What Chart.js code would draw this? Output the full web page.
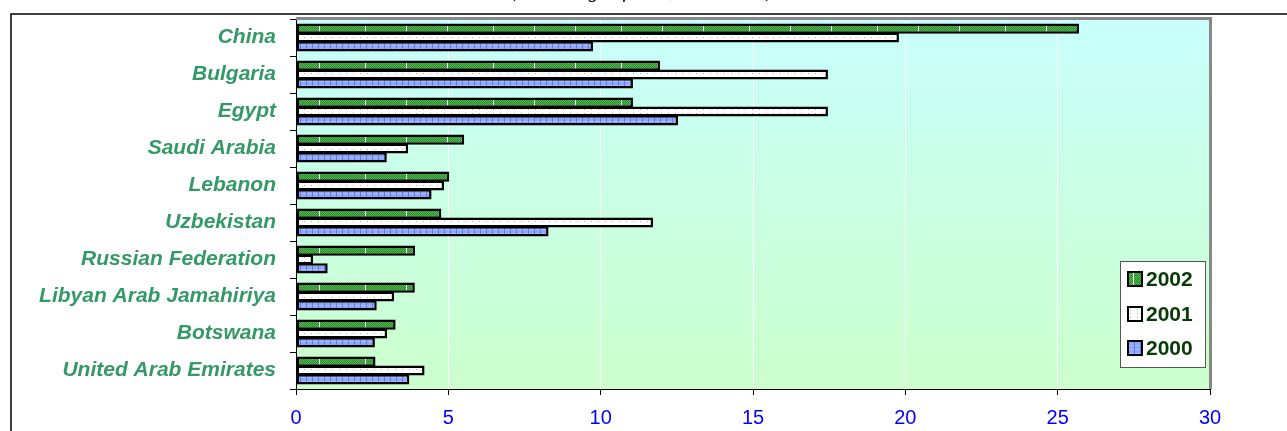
<!DOCTYPE html>
<html>
<head>
<meta charset="utf-8">
<script src="https://cdn.jsdelivr.net/npm/chart.js@4.4.0/dist/chart.umd.min.js"></script>
<style>
  html, body { margin: 0; padding: 0; background: #ffffff; }
  #wrap { width: 1287px; height: 431px; position: relative; }
</style>
</head>
<body>
<div id="wrap"><canvas id="c" width="1287" height="431"></canvas></div>
<script>
// Countries, top to bottom
const categories = ['China', 'Bulgaria', 'Egypt', 'Saudi Arabia', 'Lebanon', 'Uzbekistan',
  'Russian Federation', 'Libyan Arab Jamahiriya', 'Botswana', 'United Arab Emirates'];

// Values per year
const values2002 = [25.70, 11.95, 11.06, 5.52, 5.03, 4.77, 3.91, 3.90, 3.27, 2.61];
const values2001 = [19.79, 17.46, 17.46, 3.68, 4.86, 11.72, 0.56, 3.22, 2.99, 4.22];
const values2000 = [9.75, 11.06, 12.54, 2.98, 4.45, 8.29, 1.04, 2.65, 2.59, 3.72];

const yearLabels = ['2002', '2001', '2000'];
const xTicks = [0, 5, 10, 15, 20, 25, 30];
const titleText = '(Percentage of total, 2000-2002)';

// ---- fill patterns ----
function makePattern(w, h, draw) {
  const c = document.createElement('canvas');
  c.width = w; c.height = h;
  draw(c.getContext('2d'));
  return document.getElementById('c').getContext('2d').createPattern(c, 'repeat');
}
const greenFill = makePattern(128, 2, g => {
  for (let x = 0; x < 128; x++) {
    for (let y = 0; y < 2; y++) {
      g.fillStyle = ((x + y) % 2 === 0) ? '#2c8a2c' : '#4fbb4f';
      g.fillRect(x, y, 1, 1);
    }
  }
  g.fillStyle = '#ffffff';
  [22, 63, 109].forEach(x => g.fillRect(x, 0, 1, 2));
});
const dotFill = makePattern(7, 4, g => {
  g.fillStyle = '#ffffff'; g.fillRect(0, 0, 7, 4);
  g.fillStyle = '#e3a0a0'; g.fillRect(3, 1, 1, 1);
});
const blueFill = makePattern(6, 4, g => {
  g.fillStyle = '#8ea6ff'; g.fillRect(0, 0, 6, 4);
  g.fillStyle = '#aabcff'; g.fillRect(0, 1, 6, 1);
  g.fillStyle = '#5d7bef'; g.fillRect(0, 0, 1, 4);
});

// ---- drawing helpers ----
const backdrop = {
  id: 'backdrop',
  beforeDraw(chart) {
    const { ctx, chartArea: a } = chart;
    ctx.save();
    // heading, mostly above the top edge
    ctx.font = 'italic 20px "Liberation Serif", serif';
    ctx.fillStyle = '#000000';
    ctx.textAlign = 'center';
    ctx.textBaseline = 'alphabetic';
    ctx.fillText(titleText, 642, -3);
    // outer frame
    ctx.strokeStyle = '#000000';
    ctx.lineWidth = 1.5;
    ctx.beginPath();
    ctx.moveTo(11, 440); ctx.lineTo(11, 14); ctx.lineTo(1300, 14);
    ctx.stroke();
    // plot background gradient
    const grd = ctx.createLinearGradient(0, a.top, 0, a.bottom);
    grd.addColorStop(0, '#c8fffc');
    grd.addColorStop(1, '#ccffcc');
    ctx.fillStyle = grd;
    ctx.fillRect(a.left, a.top, a.right - a.left, a.bottom - a.top);
    ctx.restore();
  },
  beforeDatasetsDraw(chart) {
    const { ctx, chartArea: a } = chart;
    ctx.save();
    ctx.strokeStyle = '#888888';
    ctx.lineWidth = 3;
    ctx.beginPath();
    ctx.moveTo(a.left, a.top - 0.5);
    ctx.lineTo(a.right + 0.5, a.top - 0.5);
    ctx.lineTo(a.right + 0.5, a.bottom);
    ctx.stroke();
    ctx.restore();
  }
};

const boxLegend = {
  id: 'boxLegend',
  afterDraw(chart) {
    const { ctx } = chart;
    const x0 = 1120, y0 = 261, w = 85, h = 106;
    ctx.save();
    ctx.fillStyle = '#ffffff';
    ctx.fillRect(x0, y0, w, h);
    ctx.strokeStyle = '#555555';
    ctx.lineWidth = 1;
    ctx.strokeRect(x0 + 0.5, y0 + 0.5, w, h);
    const rows = [279, 314, 348];
    chart.data.datasets.forEach((ds, i) => {
      const cy = rows[i];
      ctx.fillStyle = ds.backgroundColor;
      ctx.fillRect(1128, cy - 7, 14, 14);
      ctx.strokeStyle = '#000000';
      ctx.lineWidth = 2;
      ctx.strokeRect(1128, cy - 7, 14, 14);
      ctx.fillStyle = '#063b06';
      ctx.font = 'bold 21px "Liberation Sans", Arial, sans-serif';
      ctx.textAlign = 'left';
      ctx.textBaseline = 'middle';
      ctx.fillText(ds.label, 1146, cy + 1);
    });
    ctx.restore();
  }
};

const fills = [greenFill, dotFill, blueFill];
const series = [values2002, values2001, values2000];

new Chart(document.getElementById('c'), {
  type: 'bar',
  data: {
    labels: categories,
    datasets: yearLabels.map((lab, i) => ({
      label: lab,
      data: series[i],
      backgroundColor: fills[i],
      borderColor: '#000000',
      borderWidth: 2.5,
      borderSkipped: false,
      categoryPercentage: 0.72,
      barPercentage: 1.14
    }))
  },
  options: {
    indexAxis: 'y',
    responsive: false,
    animation: false,
    layout: { padding: { top: 19, right: 77, left: 0, bottom: 0 } },
    plugins: {
      legend: { display: false },
      tooltip: { enabled: false },
      title: { display: false }
    },
    scales: {
      x: {
        type: 'linear',
        min: 0,
        max: 30,
        afterBuildTicks: axis => { axis.ticks = xTicks.map(v => ({ value: v })); },
        afterFit: axis => { axis.height = 42; axis.paddingLeft = 0; axis.paddingRight = 0; },
        border: { display: true, color: '#000000', width: 1 },
        grid: {
          color: c => (c.index === 0 || c.index === xTicks.length - 1) ? 'rgba(0,0,0,0)' : '#ffffff',
          lineWidth: 1,
          drawTicks: true,
          tickLength: 6,
          tickColor: '#000000'
        },
        ticks: {
          color: '#0000ff',
          font: { family: '"Liberation Sans", Arial, sans-serif', size: 20 },
          padding: 11
        }
      },
      y: {
        type: 'category',
        afterFit: axis => { axis.width = 296; axis.paddingTop = 0; axis.paddingBottom = 0; },
        border: { display: true, color: '#000000', width: 1 },
        grid: {
          offset: true,
          drawOnChartArea: false,
          drawTicks: true,
          tickLength: 6,
          tickColor: '#000000'
        },
        ticks: {
          color: '#339966',
          font: { family: '"Liberation Sans", Arial, sans-serif', size: 21, style: 'italic', weight: 'bold' },
          padding: 14
        }
      }
    }
  },
  plugins: [backdrop, boxLegend]
});
</script>
</body>
</html>
